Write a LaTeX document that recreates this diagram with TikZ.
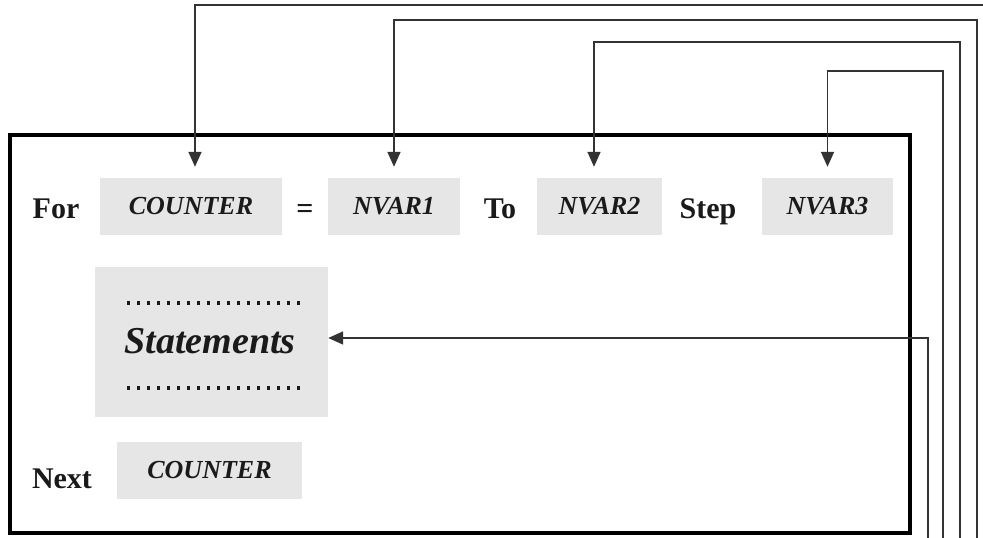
\documentclass[tikz,border=0pt]{standalone}
\usepackage{fontspec}
\setmainfont{Liberation Serif}
\usetikzlibrary{arrows.meta,calc}
\definecolor{slotgray}{HTML}{E6E6E6}
\definecolor{ink}{HTML}{1A1A1A}
\begin{document}
\begin{tikzpicture}[x=1pt,y=-1pt,
  kw/.style={font=\fontsize{30}{30}\selectfont\bfseries, text=ink, inner sep=0pt, anchor=base},
  slot/.style={fill=slotgray, inner sep=0pt, text=ink,
    font=\fontsize{26}{26}\selectfont\bfseries\itshape},
  conn/.style={draw=black!80, line width=1.6pt,
    -{Triangle[width=13pt,length=15pt]}},
  dotrow/.style={line width=3.4pt, dash pattern=on 3.4pt off 6.6pt, ink},
]
\useasboundingbox (0,0) rectangle (983,538);
\fill[white] (0,0) rectangle (983,538);
\clip (0,0) rectangle (983,538);

% frame of the For ... Next block
\draw[line width=3.5pt] (10,135) rectangle (910,533);

% header line: For COUNTER = NVAR1 To NVAR2 Step NVAR3
\node[kw] (for) at (56,218) {For};
\node[slot, minimum width=182pt, minimum height=57pt] (cnt) at (191,206.5) {COUNTER};
\node[kw] (eq) at (305,218) {=};
\node[slot, minimum width=132pt, minimum height=57pt] (nv1) at (394,206.5) {NVAR1};
\node[kw] (to) at (500,218) {To};
\node[slot, minimum width=125pt, minimum height=57pt] (nv2) at (599.5,206.5) {NVAR2};
\node[kw] (step) at (708,218) {Step};
\node[slot, minimum width=131pt, minimum height=57pt] (nv3) at (827.5,206.5) {NVAR3};

% loop body
\node[slot, minimum width=233pt, minimum height=150pt] (stmt) at (211.5,342) {};
\node[font=\fontsize{38}{38}\selectfont\bfseries\itshape, text=ink, inner sep=0pt, anchor=base]
  (stmtlbl) at (210,353) {Statements};
\draw[dotrow] (127,303) -- (300.4,303);
\draw[dotrow] (127,388) -- (300.4,388);

% closing line: Next COUNTER
\node[kw] (next) at (62,488) {Next};
\node[slot, minimum width=185pt, minimum height=57pt] (ncnt) at (209.5,470.5) {COUNTER};

% feed lines entering from the lower right
\coordinate (e0) at (993,545);
\coordinate (e1) at (977,545);
\coordinate (e2) at (960,545);
\coordinate (e3) at (943,545);
\coordinate (e4) at (928,545);

\draw[conn, shorten >=11pt] (e0) -- (e0 |- 0,5) -| ([xshift=4pt]cnt.north);
\draw[conn, shorten >=11pt] (e1) -- (e1 |- 0,20) -| (nv1.north);
\draw[conn, shorten >=11pt] (e2) -- (e2 |- 0,42) -| ([xshift=-5.5pt]nv2.north);
\draw[conn, shorten >=11pt] (e3) -- (e3 |- 0,71) -| (nv3.north);
\draw[conn] (e4) |- ([yshift=4pt]stmt.east);
\end{tikzpicture}
\end{document}
